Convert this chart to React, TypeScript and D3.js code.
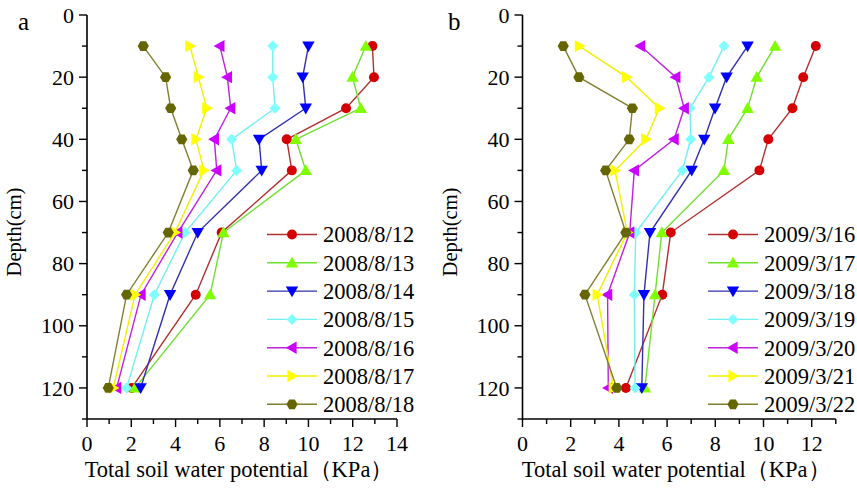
import React from "react";
import * as d3 from "d3";

// depths (cm)
const depths = [10, 20, 30, 40, 50, 70, 90, 120];

// panel a: August 2008
const datesA = ["2008/8/12", "2008/8/13", "2008/8/14", "2008/8/15", "2008/8/16", "2008/8/17", "2008/8/18"];
const a0812 = [12.89, 12.96, 11.7, 9.02, 9.25, 6.08, 4.91, 2.02];
const a0813 = [12.59, 11.99, 12.36, 9.43, 9.88, 6.16, 5.56, 2.17];
const a0814 = [10.0, 9.74, 9.88, 7.77, 7.89, 5.0, 3.75, 2.42];
const a0815 = [8.39, 8.39, 8.49, 6.53, 6.76, 4.43, 3.04, 1.79];
const a0816 = [6.0, 6.34, 6.49, 5.75, 5.86, 4.1, 2.44, 1.34];
const a0817 = [4.65, 5.03, 5.41, 4.92, 5.28, 3.97, 2.17, 1.19];
const a0818 = [2.54, 3.55, 3.78, 4.28, 4.8, 3.67, 1.79, 0.96];

// panel b: March 2009
const datesB = ["2009/3/16", "2009/3/17", "2009/3/18", "2009/3/19", "2009/3/20", "2009/3/21", "2009/3/22"];
const b0316 = [12.17, 11.65, 11.2, 10.2, 9.83, 6.15, 5.8, 4.29];
const b0317 = [10.48, 9.72, 9.34, 8.54, 8.36, 5.78, 5.5, 5.08];
const b0318 = [9.34, 8.47, 7.99, 7.54, 7.02, 5.29, 5.04, 4.95];
const b0319 = [8.36, 7.74, 6.95, 6.98, 6.63, 4.7, 4.64, 4.67];
const b0320 = [4.9, 6.36, 6.71, 6.29, 4.64, 4.45, 3.53, 3.56];
const b0321 = [2.36, 4.32, 5.68, 5.12, 3.84, 4.35, 3.1, 3.77];
const b0322 = [1.69, 2.34, 4.56, 4.43, 3.45, 4.29, 2.59, 3.91];

const markerFill = ["#d40000", "#80ff00", "#0000ff", "#80ffff", "#cc00ff", "#ffff00", "#666600"];
const lineColor = ["#b03030", "#70e030", "#3030b0", "#70f0f0", "#c020e0", "#f0f000", "#808030"];
const shapes = ["circle", "up", "down", "diamond", "left", "right", "hex"];

const FONT = "'Liberation Serif', 'Times New Roman', serif";

const yScale = d3.scaleLinear().domain([0, 130]).range([15, 419]);

function markerPath(shape: string): string {
  const s = 6.2;
  switch (shape) {
    case "up":
      return `M0,${-s}L${s},${s * 0.75}L${-s},${s * 0.75}Z`;
    case "down":
      return `M0,${s}L${s},${-s * 0.75}L${-s},${-s * 0.75}Z`;
    case "left":
      return `M${-s},0L${s * 0.75},${-s}L${s * 0.75},${s}Z`;
    case "right":
      return `M${s},0L${-s * 0.75},${-s}L${-s * 0.75},${s}Z`;
    case "diamond":
      return `M0,${-5.5}L5.5,0L0,5.5L-5.5,0Z`;
    case "hex": {
      const r = 5.6;
      const pts = d3.range(6).map((i) => {
        const a = (Math.PI / 3) * i;
        return [r * Math.cos(a), r * Math.sin(a)];
      });
      return "M" + pts.map((p) => p.join(",")).join("L") + "Z";
    }
    default:
      return d3.symbol(d3.symbolCircle, 78)()!;
  }
}

type PanelProps = {
  label: string;
  labelX: number;
  x0: number;
  x1: number;
  xMax: number;
  series: number[][];
  names: string[];
  legendX: number;
};

function Panel({ label, labelX, x0, x1, xMax, series, names, legendX }: PanelProps) {
  const x = d3.scaleLinear().domain([0, xMax]).range([x0, x1]);
  const yBase = yScale(130);
  const line = d3
    .line<[number, number]>()
    .x((d) => x(d[0]))
    .y((d) => yScale(d[1]));
  const yTicks = d3.range(0, 131, 10);
  const xTicks = d3.range(0, xMax + 0.01, 1);
  const legendY0 = 234.5;
  const legendStep = 28.3;

  return (
    <g>
      <text x={labelX} y={30} fontFamily={FONT} fontSize={25}>
        {label}
      </text>
      {/* y axis */}
      <line x1={x0} x2={x0} y1={yScale(0)} y2={yBase} stroke="#000" strokeWidth={1.6} />
      {yTicks.map((t) => (
        <g key={"y" + t}>
          <line x1={x0} x2={x0 - (t % 20 === 0 ? 8 : 5)} y1={yScale(t)} y2={yScale(t)} stroke="#000" strokeWidth={1.4} />
          {t % 20 === 0 && t <= 120 && (
            <text x={x0 - 13} y={yScale(t)} dy="0.35em" textAnchor="end" fontFamily={FONT} fontSize={22}>
              {t}
            </text>
          )}
        </g>
      ))}
      <text
        transform={`translate(${x0 - 66},232) rotate(-90)`}
        textAnchor="middle"
        fontFamily={FONT}
        fontSize={20.5}
      >
        Depth(cm)
      </text>
      {/* x axis */}
      <line x1={x0} x2={x1} y1={yBase} y2={yBase} stroke="#000" strokeWidth={1.6} />
      {xTicks.map((t) => (
        <g key={"x" + t}>
          <line x1={x(t)} x2={x(t)} y1={yBase} y2={yBase + (t % 2 === 0 ? 8 : 5)} stroke="#000" strokeWidth={1.4} />
          {t % 2 === 0 && (
            <text x={x(t)} y={451} textAnchor="middle" fontFamily={FONT} fontSize={22}>
              {t}
            </text>
          )}
        </g>
      ))}
      <text x={(x0 + x1) / 2 - 3} y={477} textAnchor="middle" fontFamily={FONT} fontSize={22.5}>
        Total soil water potential（KPa）
      </text>
      {/* series */}
      {series.map((vals, i) => {
        const pts = vals.map((v, j) => [v, depths[j]] as [number, number]);
        return (
          <g key={"s" + i}>
            <path d={line(pts)!} fill="none" stroke={lineColor[i]} strokeWidth={1.4} />
            {pts.map((p, j) => (
              <path
                key={j}
                d={markerPath(shapes[i])}
                transform={`translate(${x(p[0])},${yScale(p[1])})`}
                fill={markerFill[i]}
              />
            ))}
          </g>
        );
      })}
      {/* legend */}
      {names.map((n, i) => {
        const ly = legendY0 + i * legendStep;
        return (
          <g key={"l" + i}>
            <line x1={legendX} x2={legendX + 50} y1={ly} y2={ly} stroke={lineColor[i]} strokeWidth={1.4} />
            <path d={markerPath(shapes[i])} transform={`translate(${legendX + 25},${ly})`} fill={markerFill[i]} />
            <text x={legendX + 56} y={ly} dy="0.35em" fontFamily={FONT} fontSize={22.5}>
              {n}
            </text>
          </g>
        );
      })}
    </g>
  );
}

export default function App() {
  return (
    <svg
      width={857}
      height={488}
      style={{ position: "absolute", left: 0, top: 0, background: "#fff" }}
    >
      <Panel
        label="a"
        labelX={18}
        x0={87}
        x1={397}
        xMax={14}
        series={[a0812, a0813, a0814, a0815, a0816, a0817, a0818]}
        names={datesA}
        legendX={267}
      />
      <Panel
        label="b"
        labelX={448}
        x0={522.5}
        x1={835.8}
        xMax={13}
        series={[b0316, b0317, b0318, b0319, b0320, b0321, b0322]}
        names={datesB}
        legendX={708}
      />
    </svg>
  );
}
